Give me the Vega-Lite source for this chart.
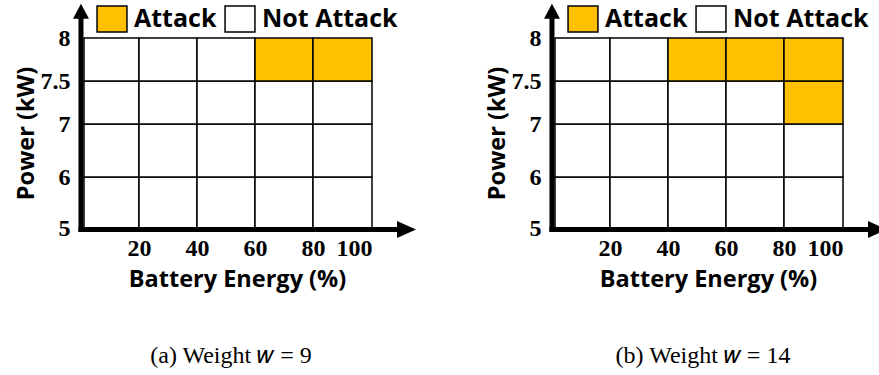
{
  "$schema": "https://vega.github.io/schema/vega-lite/v6.json",
  "padding": {"left": 13, "top": 3, "right": 5, "bottom": 5},
  "bounds": "flush",
  "spacing": 183,
  "background": "white",
  "datasets": {
    "cells": [
      {"panel": "a", "x0": 0, "x1": 20, "y0": 5, "y1": 6, "state": "Not Attack"},
      {"panel": "a", "x0": 20, "x1": 40, "y0": 5, "y1": 6, "state": "Not Attack"},
      {"panel": "a", "x0": 40, "x1": 60, "y0": 5, "y1": 6, "state": "Not Attack"},
      {"panel": "a", "x0": 60, "x1": 80, "y0": 5, "y1": 6, "state": "Not Attack"},
      {"panel": "a", "x0": 80, "x1": 100, "y0": 5, "y1": 6, "state": "Not Attack"},
      {"panel": "a", "x0": 0, "x1": 20, "y0": 6, "y1": 7, "state": "Not Attack"},
      {"panel": "a", "x0": 20, "x1": 40, "y0": 6, "y1": 7, "state": "Not Attack"},
      {"panel": "a", "x0": 40, "x1": 60, "y0": 6, "y1": 7, "state": "Not Attack"},
      {"panel": "a", "x0": 60, "x1": 80, "y0": 6, "y1": 7, "state": "Not Attack"},
      {"panel": "a", "x0": 80, "x1": 100, "y0": 6, "y1": 7, "state": "Not Attack"},
      {"panel": "a", "x0": 0, "x1": 20, "y0": 7, "y1": 7.5, "state": "Not Attack"},
      {"panel": "a", "x0": 20, "x1": 40, "y0": 7, "y1": 7.5, "state": "Not Attack"},
      {"panel": "a", "x0": 40, "x1": 60, "y0": 7, "y1": 7.5, "state": "Not Attack"},
      {"panel": "a", "x0": 60, "x1": 80, "y0": 7, "y1": 7.5, "state": "Not Attack"},
      {"panel": "a", "x0": 80, "x1": 100, "y0": 7, "y1": 7.5, "state": "Not Attack"},
      {"panel": "a", "x0": 0, "x1": 20, "y0": 7.5, "y1": 8, "state": "Not Attack"},
      {"panel": "a", "x0": 20, "x1": 40, "y0": 7.5, "y1": 8, "state": "Not Attack"},
      {"panel": "a", "x0": 40, "x1": 60, "y0": 7.5, "y1": 8, "state": "Not Attack"},
      {"panel": "a", "x0": 60, "x1": 80, "y0": 7.5, "y1": 8, "state": "Attack"},
      {"panel": "a", "x0": 80, "x1": 100, "y0": 7.5, "y1": 8, "state": "Attack"},
      {"panel": "b", "x0": 0, "x1": 20, "y0": 5, "y1": 6, "state": "Not Attack"},
      {"panel": "b", "x0": 20, "x1": 40, "y0": 5, "y1": 6, "state": "Not Attack"},
      {"panel": "b", "x0": 40, "x1": 60, "y0": 5, "y1": 6, "state": "Not Attack"},
      {"panel": "b", "x0": 60, "x1": 80, "y0": 5, "y1": 6, "state": "Not Attack"},
      {"panel": "b", "x0": 80, "x1": 100, "y0": 5, "y1": 6, "state": "Not Attack"},
      {"panel": "b", "x0": 0, "x1": 20, "y0": 6, "y1": 7, "state": "Not Attack"},
      {"panel": "b", "x0": 20, "x1": 40, "y0": 6, "y1": 7, "state": "Not Attack"},
      {"panel": "b", "x0": 40, "x1": 60, "y0": 6, "y1": 7, "state": "Not Attack"},
      {"panel": "b", "x0": 60, "x1": 80, "y0": 6, "y1": 7, "state": "Not Attack"},
      {"panel": "b", "x0": 80, "x1": 100, "y0": 6, "y1": 7, "state": "Not Attack"},
      {"panel": "b", "x0": 0, "x1": 20, "y0": 7, "y1": 7.5, "state": "Not Attack"},
      {"panel": "b", "x0": 20, "x1": 40, "y0": 7, "y1": 7.5, "state": "Not Attack"},
      {"panel": "b", "x0": 40, "x1": 60, "y0": 7, "y1": 7.5, "state": "Not Attack"},
      {"panel": "b", "x0": 60, "x1": 80, "y0": 7, "y1": 7.5, "state": "Not Attack"},
      {"panel": "b", "x0": 80, "x1": 100, "y0": 7, "y1": 7.5, "state": "Attack"},
      {"panel": "b", "x0": 0, "x1": 20, "y0": 7.5, "y1": 8, "state": "Not Attack"},
      {"panel": "b", "x0": 20, "x1": 40, "y0": 7.5, "y1": 8, "state": "Not Attack"},
      {"panel": "b", "x0": 40, "x1": 60, "y0": 7.5, "y1": 8, "state": "Attack"},
      {"panel": "b", "x0": 60, "x1": 80, "y0": 7.5, "y1": 8, "state": "Attack"},
      {"panel": "b", "x0": 80, "x1": 100, "y0": 7.5, "y1": 8, "state": "Attack"}
    ]
  },
  "config": {
    "view": {"stroke": null},
    "axis": {
      "domain": false, "ticks": false, "tickSize": 0, "grid": false, "labelOverlap": false,
      "labelFont": "Liberation Serif", "labelFontWeight": "bold", "labelFontSize": 24, "labelColor": "black",
      "titleFont": "Open Sans", "titleFontWeight": "bold", "titleFontSize": 23.5, "titleColor": "black"
    },
    "legend": {
      "labelFont": "Open Sans", "labelFontWeight": "bold", "labelFontSize": 25, "labelColor": "black"
    },
    "title": {
      "font": "Liberation Serif", "fontWeight": "normal", "fontSize": 24, "color": "black"
    }
  },
  "resolve": {"scale": {"color": "independent"}, "legend": {"color": "independent"}},
  "hconcat": [
    {
      "width": 288, "height": 190,
      "title": {"text": "(a) Weight 𝑤 = 9", "orient": "bottom", "offset": 53, "dx": 3},
      "layer": [
        {
          "data": {"name": "cells"},
          "transform": [{"filter": "datum.panel === 'a'"}],
          "mark": {"type": "rect", "stroke": "black", "strokeWidth": 1.5},
          "encoding": {
            "x": {"field": "x0", "type": "quantitative", "scale": {"domain": [0, 20, 40, 60, 80, 100], "range": [0, 55, 113, 171, 229, 288], "nice": false, "zero": false},
                  "axis": {"values": [20, 40, 60, 80, 100], "format": "d", "title": "Battery Energy (%)", "labelPadding": 8, "titlePadding": 7, "titleX": 153}},
            "x2": {"field": "x1"},
            "y": {"field": "y0", "type": "quantitative", "scale": {"domain": [5, 6, 7, 7.5, 8], "range": [190, 139, 86, 43, 0], "nice": false, "zero": false},
                  "axis": {"values": [5, 6, 7, 7.5, 8], "format": "~g", "title": "Power (kW)", "labelPadding": 14, "titleX": -58, "titleY": 95, "titleAngle": -90, "titleAlign": "center", "titleBaseline": "middle"}},
            "y2": {"field": "y1"},
            "color": {"field": "state", "type": "nominal",
                      "scale": {"domain": ["Attack", "Not Attack"], "range": ["#FFC000", "#FFFFFF"]},
                      "legend": {"title": null, "orient": "none", "legendX": 14, "legendY": -33, "direction": "horizontal",
                                 "symbolType": "M-1.15,-1L1.15,-1L1.15,1L-1.15,1Z", "symbolSize": 676,
                                 "symbolStrokeColor": "black", "symbolStrokeWidth": 1.5, "symbolOpacity": 1,
                                 "labelOffset": 8, "columnPadding": 5}}
          }
        },
        {
          "data": {"values": [{}]},
          "mark": {"type": "rule", "color": "black", "strokeWidth": 5, "strokeCap": "square"},
          "encoding": {
            "x": {"datum": -1.1, "type": "quantitative", "scale": {"domain": [0, 20, 40, 60, 80, 100], "range": [0, 55, 113, 171, 229, 288], "nice": false, "zero": false}},
            "y": {"datum": 4.97, "type": "quantitative", "scale": {"domain": [5, 6, 7, 7.5, 8], "range": [190, 139, 86, 43, 0], "nice": false, "zero": false}},
            "y2": {"datum": 8.22}
          }
        },
        {
          "data": {"values": [{}]},
          "mark": {"type": "rule", "color": "black", "strokeWidth": 5, "strokeCap": "square"},
          "encoding": {
            "x": {"datum": -1.1, "type": "quantitative"},
            "x2": {"datum": 108.5},
            "y": {"datum": 4.97, "type": "quantitative"}
          }
        },
        {
          "data": {"values": [{}]},
          "mark": {"type": "point", "filled": true, "color": "black", "opacity": 1, "size": 361, "strokeWidth": 0, "shape": "M0,-0.79L-0.84,0.79L0.84,0.79Z"},
          "encoding": {
            "x": {"datum": -1.1, "type": "quantitative"},
            "y": {"datum": 8.31, "type": "quantitative"}
          }
        },
        {
          "data": {"values": [{}]},
          "mark": {"type": "point", "filled": true, "color": "black", "opacity": 1, "size": 361, "strokeWidth": 0, "shape": "M1,0L-1,-0.895L-1,0.895Z"},
          "encoding": {
            "x": {"datum": 111.7, "type": "quantitative"},
            "y": {"datum": 4.97, "type": "quantitative"}
          }
        }
      ]
    },
    {
      "width": 288, "height": 190,
      "title": {"text": "(b) Weight 𝑤 = 14", "orient": "bottom", "offset": 53, "dx": 4},
      "layer": [
        {
          "data": {"name": "cells"},
          "transform": [{"filter": "datum.panel === 'b'"}],
          "mark": {"type": "rect", "stroke": "black", "strokeWidth": 1.5},
          "encoding": {
            "x": {"field": "x0", "type": "quantitative", "scale": {"domain": [0, 20, 40, 60, 80, 100], "range": [0, 55, 113, 171, 229, 288], "nice": false, "zero": false},
                  "axis": {"values": [20, 40, 60, 80, 100], "format": "d", "title": "Battery Energy (%)", "labelPadding": 8, "titlePadding": 7, "titleX": 153}},
            "x2": {"field": "x1"},
            "y": {"field": "y0", "type": "quantitative", "scale": {"domain": [5, 6, 7, 7.5, 8], "range": [190, 139, 86, 43, 0], "nice": false, "zero": false},
                  "axis": {"values": [5, 6, 7, 7.5, 8], "format": "~g", "title": "Power (kW)", "labelPadding": 14, "titleX": -58, "titleY": 95, "titleAngle": -90, "titleAlign": "center", "titleBaseline": "middle"}},
            "y2": {"field": "y1"},
            "color": {"field": "state", "type": "nominal",
                      "scale": {"domain": ["Attack", "Not Attack"], "range": ["#FFC000", "#FFFFFF"]},
                      "legend": {"title": null, "orient": "none", "legendX": 14, "legendY": -33, "direction": "horizontal",
                                 "symbolType": "M-1.15,-1L1.15,-1L1.15,1L-1.15,1Z", "symbolSize": 676,
                                 "symbolStrokeColor": "black", "symbolStrokeWidth": 1.5, "symbolOpacity": 1,
                                 "labelOffset": 8, "columnPadding": 5}}
          }
        },
        {
          "data": {"values": [{}]},
          "mark": {"type": "rule", "color": "black", "strokeWidth": 5, "strokeCap": "square"},
          "encoding": {
            "x": {"datum": -1.1, "type": "quantitative", "scale": {"domain": [0, 20, 40, 60, 80, 100], "range": [0, 55, 113, 171, 229, 288], "nice": false, "zero": false}},
            "y": {"datum": 4.97, "type": "quantitative", "scale": {"domain": [5, 6, 7, 7.5, 8], "range": [190, 139, 86, 43, 0], "nice": false, "zero": false}},
            "y2": {"datum": 8.22}
          }
        },
        {
          "data": {"values": [{}]},
          "mark": {"type": "rule", "color": "black", "strokeWidth": 5, "strokeCap": "square"},
          "encoding": {
            "x": {"datum": -1.1, "type": "quantitative"},
            "x2": {"datum": 108.5},
            "y": {"datum": 4.97, "type": "quantitative"}
          }
        },
        {
          "data": {"values": [{}]},
          "mark": {"type": "point", "filled": true, "color": "black", "opacity": 1, "size": 361, "strokeWidth": 0, "shape": "M0,-0.79L-0.84,0.79L0.84,0.79Z"},
          "encoding": {
            "x": {"datum": -1.1, "type": "quantitative"},
            "y": {"datum": 8.31, "type": "quantitative"}
          }
        },
        {
          "data": {"values": [{}]},
          "mark": {"type": "point", "filled": true, "color": "black", "opacity": 1, "size": 361, "strokeWidth": 0, "shape": "M1,0L-1,-0.895L-1,0.895Z"},
          "encoding": {
            "x": {"datum": 111.7, "type": "quantitative"},
            "y": {"datum": 4.97, "type": "quantitative"}
          }
        }
      ]
    }
  ]
}
